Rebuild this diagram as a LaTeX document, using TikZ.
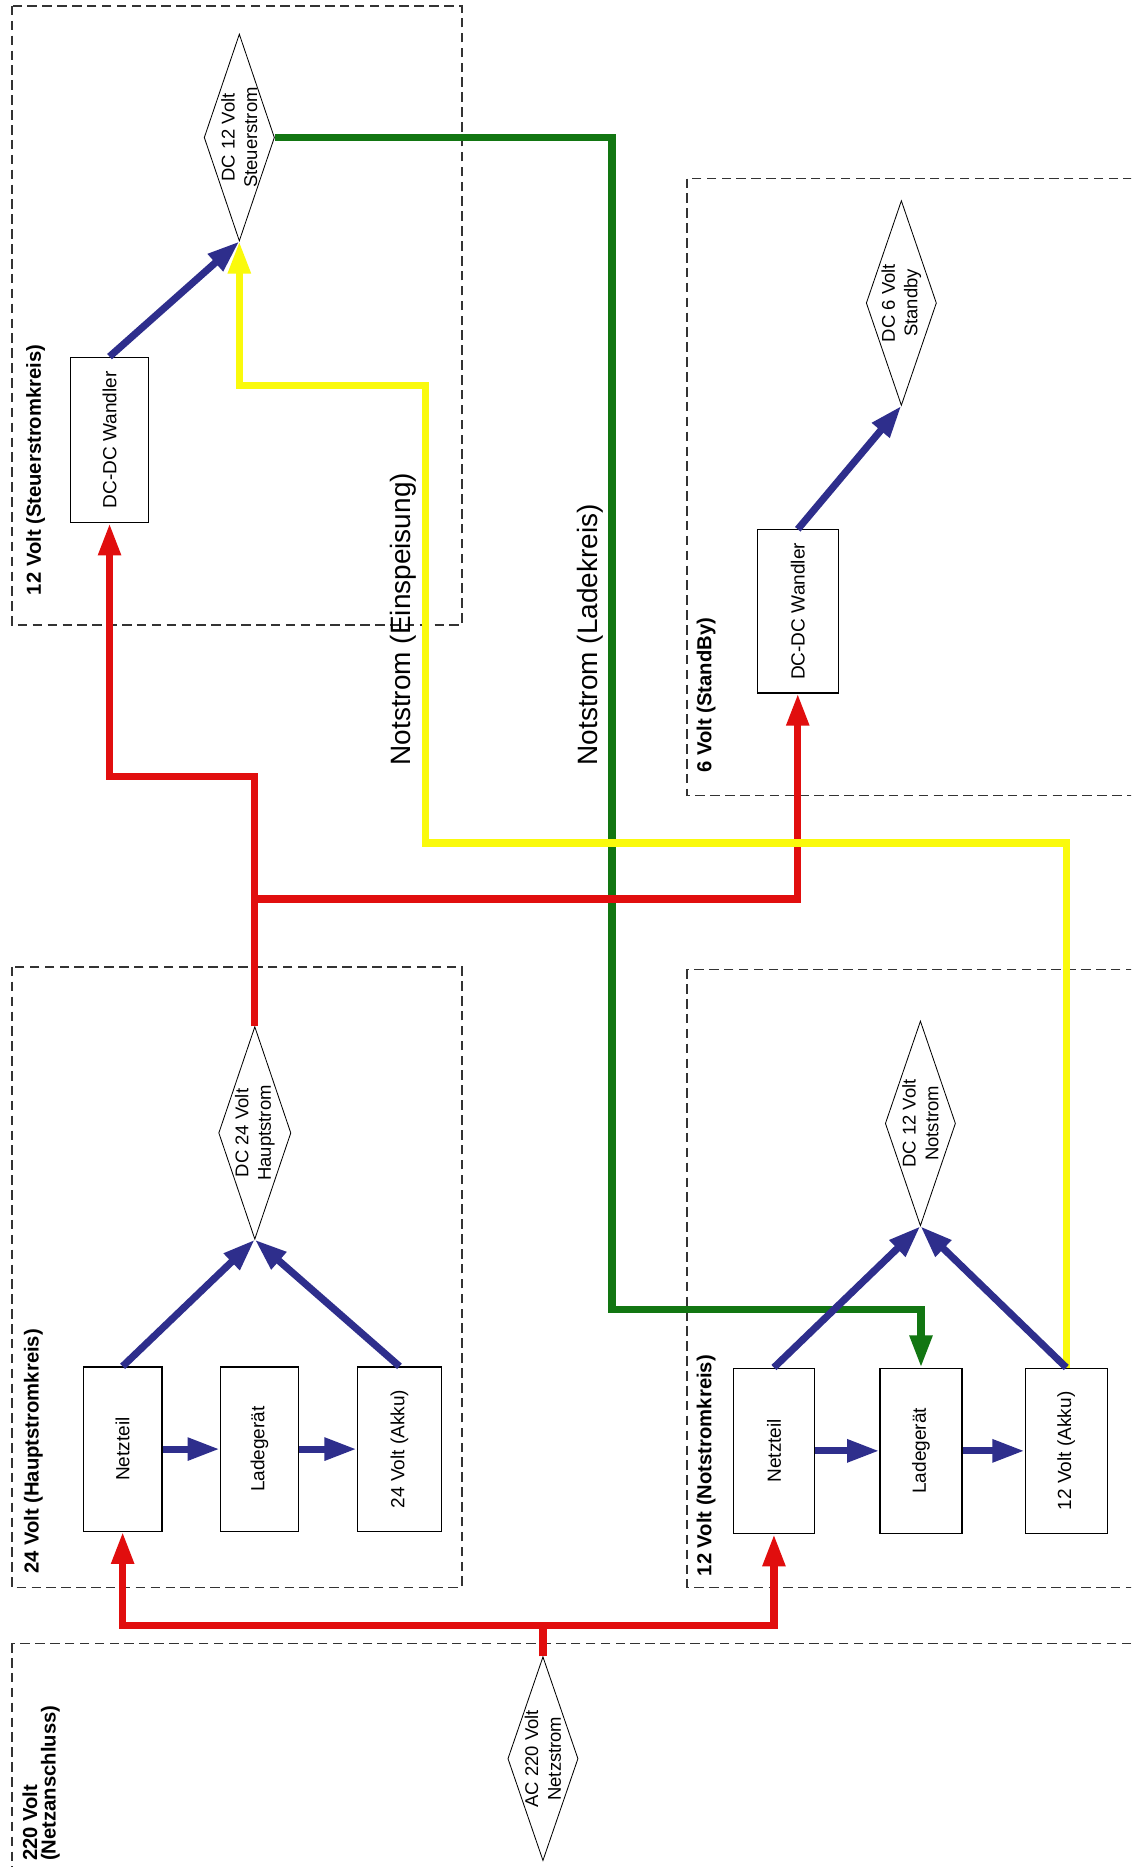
\documentclass[tikz,border=0pt]{standalone}
\usepackage{fontspec}
\setmainfont{Liberation Sans}
\usepackage{graphicx}
\usetikzlibrary{arrows.meta,shapes.geometric}
\definecolor{cred}{RGB}{225,14,14}
\definecolor{cgreen}{RGB}{18,118,18}
\definecolor{cyellow}{RGB}{250,250,12}
\definecolor{cblue}{RGB}{46,46,140}
\newcommand{\cstack}[2]{\rotatebox{90}{\vbox{\halign{\hfil##\hfil\cr#1\cr#2\cr}}}}
\newcommand{\lstack}[2]{\rotatebox{90}{\vbox{\halign{##\hfil\cr#1\cr#2\cr}}}}
\newcommand{\rtx}[1]{\rotatebox{90}{#1}}
\tikzset{
  grp/.style={draw=black!80, line width=1.1pt, dash pattern=on 8pt off 4.5pt},
  blk/.style={draw=black, line width=1pt, rectangle, inner sep=0pt,
              minimum width=67pt, minimum height=138pt, font=\fontsize{16}{17}\selectfont},
  dia/.style={draw=black, line width=0.7pt, diamond, aspect=0.34, inner sep=0pt,
              minimum width=59pt, minimum height=172pt, font=\fontsize{15.5}{19}\selectfont},
  grplab/.style={inner sep=0pt, font=\bfseries\fontsize{17}{15.5}\selectfont, anchor=south},
  wirelab/.style={inner sep=0pt, font=\fontsize{23.5}{26}\selectfont, anchor=south},
  wire/.style={line width=6pt},
  tipw/.style={-{Triangle[length=27pt,width=18pt]}},
  redw/.style={wire, draw=cred},
  redarr/.style={redw, tipw},
  greenarr/.style={wire, draw=cgreen, tipw},
  yellowarr/.style={wire, draw=cyellow, tipw},
  bluearr/.style={wire, draw=cblue, tipw}
}
\begin{document}
\begin{tikzpicture}[x=1pt,y=-1pt]
\useasboundingbox (0,0) rectangle (950,1568);
\fill[white] (0,0) rectangle (950,1568);
\clip (0,0) rectangle (950,1568);

% group frames
\draw[grp] (10,5) rectangle (388,525);
\draw[grp] (10,812) rectangle (388,1333);
\draw[grp] (10,1380) rectangle (990,1620);
\draw[grp] (577,150) rectangle (990,668);
\draw[grp] (577,814) rectangle (990,1333);

% group labels
\node[grplab] (labS) at (30,500) {\rtx{12 Volt (Steuerstromkreis)}};
\node[grplab] (labH) at (28,1322) {\rtx{24 Volt (Hauptstromkreis)}};
\node[grplab] (labNA) at (34.5,1563) {\lstack{220 Volt}{(Netzanschluss)}};
\node[grplab] (labSB) at (593,649) {\rtx{6 Volt (StandBy)}};
\node[grplab] (labNS) at (593,1324) {\rtx{12 Volt (Notstromkreis)}};

% diamonds
\node[dia] (ds)  at (201,115.5) {\cstack{DC 12 Volt}{Steuerstrom}};
\node[dia] (dh)  at (214,951.5) {\cstack{DC 24 Volt}{Hauptstrom}};
\node[dia] (dn)  at (773,943.5) {\cstack{DC 12 Volt}{Notstrom}};
\node[dia] (dsb) at (757,254.5) {\cstack{DC 6 Volt}{Standby}};
\node[dia, minimum height=168pt] (ac) at (456,1477) {\cstack{AC 220 Volt}{Netzstrom}};

% boxes
\node[blk, minimum width=66pt, minimum height=139pt] (dcdc1) at (92,369.5) {\rtx{DC-DC Wandler}};
\node[blk, minimum width=68pt, minimum height=137pt] (dcdc2) at (670,513.5) {\rtx{DC-DC Wandler}};
\node[blk, minimum width=66pt] (netzH) at (103,1217) {\rtx{Netzteil}};
\node[blk, minimum width=66pt] (ladeH) at (218,1217) {\rtx{Ladegerät}};
\node[blk, minimum width=71pt] (akkuH) at (335.5,1217) {\rtx{24 Volt (Akku)}};
\node[blk, minimum width=68pt, minimum height=139pt] (netzN) at (650,1218.5) {\rtx{Netzteil}};
\node[blk, minimum width=69pt, minimum height=139pt] (ladeN) at (773.5,1218.5) {\rtx{Ladegerät}};
\node[blk, minimum width=69pt, minimum height=139pt] (akkuN) at (895.5,1218.5) {\rtx{12 Volt (Akku)}};

% wire labels
\node[wirelab] (lEin) at (339,643) {\rtx{Notstrom (Einspeisung)}};
\node[wirelab] (lLad) at (496,643) {\rtx{Notstrom (Ladekreis)}};

% green
\coordinate (g2) at (514,1100);
\draw[greenarr] (ds.east) -| (g2) -| (ladeN.north);

% red
\coordinate (rj) at (456,1365);
\draw[redw] (ac.north) -- (rj);
\draw[redarr] (rj) -| (netzH.south);
\draw[redarr] (rj) -| (netzN.south);
\coordinate (rj2) at (214,755);
\coordinate (rk) at (214,652);
\draw[redarr] (dh.north) -- (rk) -| (dcdc1.south);
\draw[redarr] (rj2) -| (dcdc2.south);

% yellow
\coordinate (y1) at (357,708);
\coordinate (y2) at (201,324);
\draw[yellowarr] (akkuN.north) |- (y1) |- (y2) -- (ds.south);

% blue
\draw[bluearr] (dcdc1.north) -- (ds.south);
\draw[bluearr] (dcdc2.north) -- (dsb.south);
\draw[bluearr] (netzH.north) -- (dh.south);
\draw[bluearr] (akkuH.north) -- (dh.south);
\draw[bluearr] (netzH.east) -- (ladeH.west);
\draw[bluearr] (ladeH.east) -- (akkuH.west);
\draw[bluearr] (netzN.north) -- (dn.south);
\draw[bluearr] (akkuN.north) -- (dn.south);
\draw[bluearr] (netzN.east) -- (ladeN.west);
\draw[bluearr] (ladeN.east) -- (akkuN.west);
\end{tikzpicture}
\end{document}
